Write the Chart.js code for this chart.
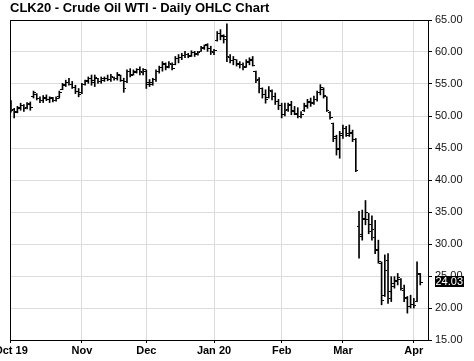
<!DOCTYPE html>
<html><head><meta charset="utf-8">
<script src="https://cdn.jsdelivr.net/npm/chart.js@4/dist/chart.umd.min.js"></script>
<style>html,body{margin:0;padding:0;background:#fff}#wrap{width:474px;height:361px}</style>
</head><body><div id="wrap"><canvas id="c" width="474" height="361"></canvas></div>
<script>
const chartTitle = 'CLK20 - Crude Oil WTI - Daily OHLC Chart';
const monthTickIndex = [0, 22, 42, 63, 84, 103, 125];
const monthTickLabels = ['Oct 19', 'Nov', 'Dec', 'Jan 20', 'Feb', 'Mar', 'Apr'];
const opens  = [52.3,51.0,50.7,51.2,51.6,51.3,51.9,53.0,53.4,52.8,52.4,52.8,52.6,52.7,52.5,53.0,54.2,54.8,55.3,55.0,54.5,53.8,53.6,55.0,55.4,55.9,55.6,55.9,55.4,55.6,55.8,55.7,56.0,55.8,56.3,55.6,55.4,56.9,56.5,56.8,57.2,56.8,57.0,55.0,55.0,55.7,57.0,57.6,58.1,57.7,58.1,58.0,59.0,59.2,59.4,59.6,59.4,60.0,59.7,60.1,60.6,61.1,60.5,60.0,61.8,62.9,62.6,62.5,59.2,58.7,58.8,58.2,58.0,57.7,58.4,58.9,56.9,55.7,54.3,53.4,52.9,53.9,53.0,52.2,51.6,50.3,51.0,51.6,50.7,50.3,50.0,50.8,51.5,52.2,52.1,52.6,53.6,54.2,53.0,50.6,48.8,46.8,45.0,47.0,48.0,47.2,47.3,46.4,32.8,31.5,34.0,33.8,33.0,31.0,29.0,27.0,22.0,27.5,21.5,23.8,24.3,24.5,22.8,21.5,20.2,20.5,21.0,25.3];
const highs  = [52.4,51.2,51.5,52.0,51.8,52.1,52.2,53.9,53.5,53.0,53.2,53.3,53.0,52.9,53.0,53.9,55.1,55.6,55.9,55.4,54.8,54.3,55.1,55.6,56.1,56.4,56.4,55.9,56.1,56.1,56.4,56.5,56.1,56.8,56.4,55.9,57.2,57.4,57.2,57.4,57.7,57.4,57.2,55.7,55.9,57.2,57.8,58.5,58.3,58.5,58.3,59.3,59.6,59.8,60.1,59.8,60.2,60.1,60.1,60.9,61.1,61.3,60.9,60.4,63.2,63.5,62.7,64.4,59.6,59.3,58.8,58.5,58.3,58.8,59.1,59.3,57.0,56.0,54.4,54.1,54.6,54.1,53.6,52.6,52.0,52.0,52.0,52.3,51.5,51.3,50.7,52.0,52.6,52.8,53.1,53.9,54.9,54.4,53.0,50.7,48.9,47.0,47.6,48.6,48.4,48.6,47.8,46.5,35.1,35.3,36.8,34.8,34.4,33.7,30.6,27.2,28.3,28.5,24.9,24.9,25.4,24.6,23.6,21.8,22.0,21.5,27.2,25.4];
const lows   = [50.6,49.7,50.5,50.9,50.7,51.1,50.9,52.8,52.5,52.1,52.1,52.4,52.1,52.2,52.3,52.8,54.1,54.6,54.8,54.3,53.5,53.0,53.5,54.8,55.1,54.8,54.6,55.1,55.1,55.4,55.5,55.4,55.6,55.6,55.4,53.7,55.2,56.1,56.4,56.7,56.4,56.4,54.3,54.6,54.8,55.4,56.7,57.0,57.2,57.5,57.2,58.0,58.3,58.8,59.1,59.1,59.3,59.3,59.5,60.1,60.4,60.1,59.6,59.6,61.7,61.9,61.4,58.5,58.3,58.0,57.8,57.5,57.2,57.6,58.0,57.8,55.2,53.6,52.8,52.0,52.8,52.5,51.8,51.0,49.7,50.0,50.7,50.2,50.2,49.7,49.7,50.7,51.2,51.5,51.8,52.3,53.3,52.8,50.7,49.5,46.0,43.9,43.4,46.5,46.8,46.8,46.0,41.3,27.8,30.6,33.0,31.6,30.6,28.5,27.0,20.5,21.8,20.7,21.0,23.1,23.6,22.8,21.0,19.2,20.0,20.0,21.0,23.6];
const closes = [50.9,50.6,51.3,51.7,51.2,51.8,51.4,53.6,52.8,52.4,52.9,52.6,52.9,52.4,52.8,53.7,54.9,55.2,55.0,54.5,53.8,53.3,55.0,55.5,55.9,55.2,56.0,55.4,55.8,55.9,55.7,56.2,55.8,56.5,55.6,54.3,57.0,56.4,56.9,57.2,56.9,57.3,55.2,55.2,55.7,56.9,57.6,58.2,57.6,58.2,57.5,59.0,59.2,59.4,59.6,59.3,60.0,59.6,59.9,60.7,61.0,60.5,60.1,60.3,62.9,62.5,62.0,59.3,58.7,58.9,58.1,58.0,57.6,58.5,58.7,57.9,55.6,54.3,53.3,52.6,54.0,53.0,52.3,51.6,50.2,50.9,51.8,50.8,50.4,49.9,50.3,51.6,52.1,51.9,52.6,53.6,54.4,53.2,50.9,49.8,46.5,44.8,47.2,48.0,47.0,47.4,46.4,41.5,31.2,33.8,35.0,32.0,32.2,29.2,27.2,21.2,25.8,22.6,23.4,24.2,24.7,23.1,21.6,20.2,20.5,20.4,25.4,24.03];

function tickCanvas(side) {
  const c = document.createElement('canvas');
  c.width = 5; c.height = 1;
  const g = c.getContext('2d');
  g.fillStyle = '#000';
  g.fillRect(side === 'left' ? 0 : 3, 0, 2, 1);
  return c;
}

const framePlugin = {
  id: 'frame',
  beforeDatasetsDraw(chart) {
    const a = chart.chartArea, ctx = chart.ctx;
    ctx.save();
    ctx.strokeStyle = '#000';
    ctx.lineWidth = 1;
    ctx.strokeRect(Math.round(a.left) + 0.5, Math.round(a.top) + 0.5,
      Math.round(a.right) - Math.round(a.left), Math.round(a.bottom) - Math.round(a.top));
    ctx.restore();
  }
};

const lastPricePlugin = {
  id: 'lastPrice',
  afterDraw(chart) {
    const ys = chart.scales.y, ctx = chart.ctx;
    const last = closes[closes.length - 1];
    const y = ys.getPixelForValue(last);
    const x = chart.chartArea.right + 7;
    ctx.save();
    ctx.fillStyle = '#000';
    ctx.fillRect(x, Math.round(y) - 6, 29, 11);
    ctx.fillStyle = '#fff';
    ctx.font = '11px "Liberation Sans", Arial, sans-serif';
    ctx.textBaseline = 'middle';
    ctx.textAlign = 'left';
    ctx.fillText(last.toFixed(2), x + 0.5, Math.round(y));
    ctx.restore();
  }
};

const idx = closes.map((_, i) => i);

new Chart(document.getElementById('c'), {
  type: 'bar',
  data: {
    datasets: [
      {
        type: 'bar',
        data: idx.map(i => ({ x: i, y: [lows[i], highs[i]] })),
        backgroundColor: '#000',
        borderWidth: 0,
        barThickness: 1,
        grouped: false
      },
      {
        type: 'line',
        data: idx.map(i => ({ x: i, y: opens[i] })),
        showLine: false,
        pointStyle: tickCanvas('left'),
        pointRadius: 2
      },
      {
        type: 'line',
        data: idx.map(i => ({ x: i, y: closes[i] })),
        showLine: false,
        pointStyle: tickCanvas('right'),
        pointRadius: 2
      }
    ]
  },
  options: {
    responsive: false,
    devicePixelRatio: 1,
    animation: false,
    events: [],
    layout: { autoPadding: false, padding: { left: 10, right: 0, top: 0, bottom: 0 } },
    plugins: {
      legend: { display: false },
      tooltip: { enabled: false },
      title: {
        display: true,
        text: chartTitle,
        align: 'start',
        color: '#000',
        font: { family: '"Liberation Sans", Arial, sans-serif', size: 13, weight: 'bold', lineHeight: 1.2 },
        padding: { top: 0.4, bottom: 4 }
      }
    },
    scales: {
      x: {
        type: 'linear',
        offset: false,
        min: -0.3,
        max: 129.4,
        afterFit: s => { s.height = 21; s.paddingLeft = 0; s.paddingRight = 0; },
        afterBuildTicks: s => { s.ticks = monthTickIndex.map(v => ({ value: v })); },
        ticks: {
          autoSkip: false,
          maxRotation: 0,
          padding: 1.5,
          color: '#000',
          font: { family: '"Liberation Sans", Arial, sans-serif', size: 11, weight: 'bold' },
          callback: v => monthTickLabels[monthTickIndex.indexOf(v)]
        },
        grid: { color: '#dcdcdc', offset: false, tickColor: '#000', tickLength: 3 },
        border: { display: false }
      },
      y: {
        position: 'right',
        min: 15,
        max: 65,
        afterFit: s => { s.width = 46; s.paddingTop = 0; s.paddingBottom = 0; },
        ticks: {
          stepSize: 5,
          padding: 3,
          color: '#111',
          font: { family: '"Liberation Sans", Arial, sans-serif', size: 11 },
          callback: v => v.toFixed(2)
        },
        grid: { color: '#dcdcdc', tickColor: '#000', tickLength: 4 },
        border: { display: false }
      }
    }
  },
  plugins: [framePlugin, lastPricePlugin]
});
</script>
</body></html>
